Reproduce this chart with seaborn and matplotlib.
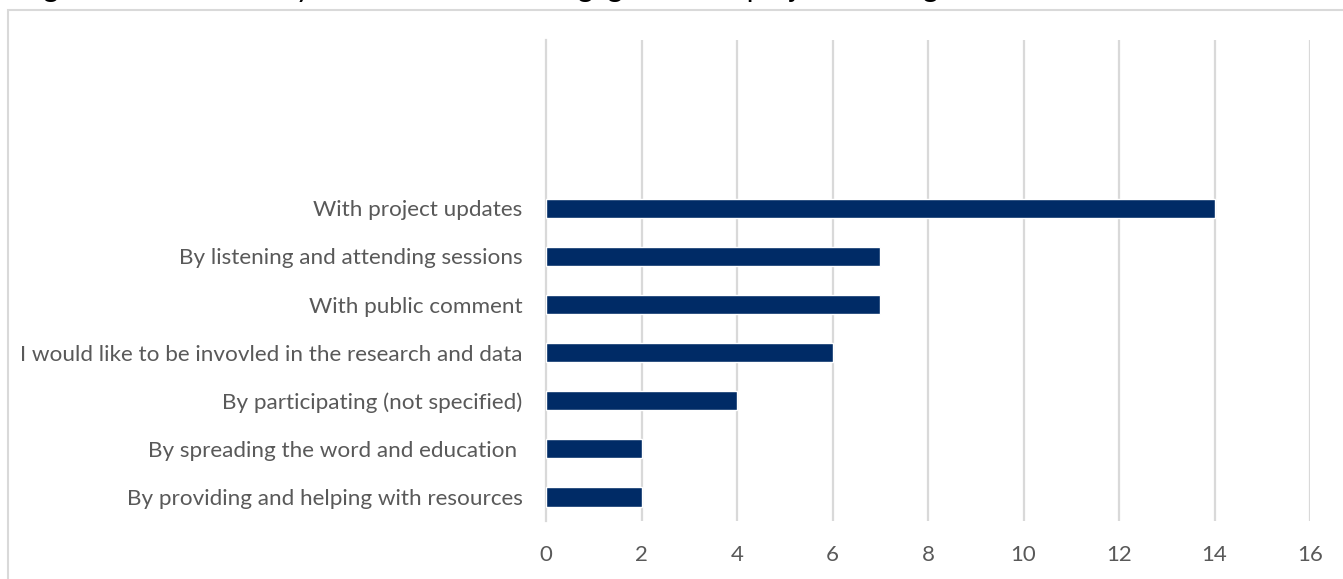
import matplotlib
matplotlib.use("Agg")
import matplotlib.pyplot as plt
import seaborn as sns
import pandas as pd
from matplotlib.patches import Rectangle

# Responses: how people would like to be engaged going forward
categories = [
    "With project updates",
    "By listening and attending sessions",
    "With public comment",
    "I would like to be invovled in the research and data",
    "By participating (not specified)",
    "By spreading the word and education ",
    "By providing and helping with resources",
]
counts = [14, 7, 7, 6, 4, 2, 2]
x_ticks = [0, 2, 4, 6, 8, 10, 12, 14, 16]
title = "Figure 5: How would you like to become engaged in this project moving forward?"

sns.set_theme(style="white")
plt.rcParams["font.family"] = ["Lato", "DejaVu Sans"]

W, H = 1343, 579
fig = plt.figure(figsize=(W / 100, H / 100), dpi=100)
ax = fig.add_axes([546 / W, 1 - 521 / H, (1310 - 546) / W, (521 - 40) / H])

df = pd.DataFrame({"category": categories, "count": counts})
sns.barplot(data=df, x="count", y="category", orient="h", color="#002b66",
            width=0.4, saturation=1, ax=ax, zorder=3)

grid_c = "#d9d9d9"
label_c = "#595959"

# three empty category slots above the first bar
ax.set_ylim(len(categories) - 0.5, -3.5)
ax.set_xlim(x_ticks[0], x_ticks[-1])
ax.set_xticks(x_ticks)
ax.set_xticklabels([str(t) for t in x_ticks])
ax.set_xlabel("")
ax.set_ylabel("")

for t in x_ticks[1:]:
    ax.axvline(t, color=grid_c, lw=1.6, zorder=1)

for s in ["top", "right", "bottom"]:
    ax.spines[s].set_visible(False)
ax.spines["left"].set_color(grid_c)
ax.spines["left"].set_linewidth(1.6)

# tick marks at category boundaries, labels at category centres
ax.set_yticks([i - 0.5 for i in range(-3, len(categories) + 1)], minor=True)
ax.tick_params(axis="y", which="minor", length=6, width=1.6, color=grid_c, direction="out")
ax.tick_params(axis="y", which="major", length=0, pad=17, labelsize=16.2, labelcolor=label_c)
ax.tick_params(axis="x", which="major", length=0, pad=17, labelsize=16, labelcolor=label_c)

# chart frame
fig.patches.append(Rectangle((8 / W, -0.5), 2.0, 1.5 - 10 / H, transform=fig.transFigure,
                             fill=False, edgecolor=grid_c, lw=1.5))

# caption sitting above the frame
fig.text(20 / W, 1 + 3.5 / H, title, fontsize=21, color="black", ha="left", va="baseline")

fig.savefig("out.png", dpi=100)
